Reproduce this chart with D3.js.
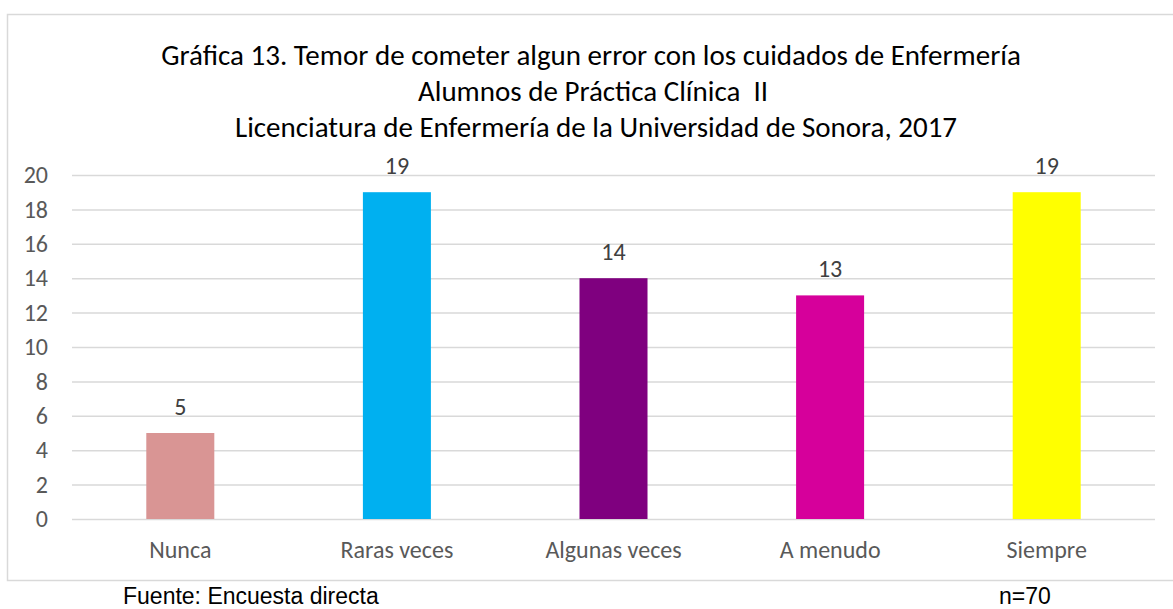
<!DOCTYPE html>
<html>
<head>
<meta charset="utf-8">
<script src="https://cdn.jsdelivr.net/npm/d3@7"></script>
<style>
  body { margin: 0; background: #fff; }
  text { font-family: Calibri, Carlito, "Open Sans", "Noto Sans", sans-serif; }
</style>
</head>
<body>
<svg id="chart" width="1173" height="609"></svg>
<script>
// chart data
const categories = ["Nunca", "Raras veces", "Algunas veces", "A menudo", "Siempre"];
const values = [5, 19, 14, 13, 19];
const barColors = ["#D99594", "#00B0F0", "#7F007F", "#D6009B", "#FFFF00"];
const yTicks = [0, 2, 4, 6, 8, 10, 12, 14, 16, 18, 20];
const titleLines = [
  "Gráfica 13. Temor de cometer algun error con los cuidados de Enfermería",
  "Alumnos de Práctica Clínica  II",
  "Licenciatura de Enfermería de la Universidad de Sonora, 2017"
];

const svg = d3.select("#chart");
const fontStack = "Calibri, Carlito, 'Open Sans', 'Noto Sans', sans-serif";

// set the dimensions of the plot area
const margin = { top: 175, right: 18, bottom: 90, left: 72 };
const width = 1155 - margin.left;
const height = 519 - margin.top;

// outer frame of the chart
svg.append("rect")
  .attr("x", 7.5)
  .attr("y", 14.5)
  .attr("width", 1175)
  .attr("height", 566)
  .attr("fill", "#fff")
  .attr("stroke", "#D9D9D9")
  .attr("stroke-width", 1.5);

// title
svg.append("g")
  .selectAll("text")
  .data(titleLines)
  .join("text")
  .attr("x", (d, i) => [591, 593, 596][i])
  .attr("y", (d, i) => 65 + i * 36)
  .attr("text-anchor", "middle")
  .attr("font-size", "29px")
  .attr("fill", "#000")
  .style("white-space", "pre")
  .text(d => d);

const g = svg.append("g")
  .attr("transform", "translate(" + margin.left + "," + margin.top + ")");

const xScale = d3.scaleBand()
  .domain(categories)
  .range([0, width]);

const yScale = d3.scaleLinear()
  .domain([0, 20])
  .range([height, 0]);

// gridlines
g.append("g")
  .selectAll("line")
  .data(yTicks)
  .join("line")
  .attr("x1", 0)
  .attr("x2", width)
  .attr("y1", d => yScale(d) + 0.5)
  .attr("y2", d => yScale(d) + 0.5)
  .attr("stroke", "#D9D9D9")
  .attr("stroke-width", 1.5);

// y axis labels
const yAxis = g.append("g")
  .call(d3.axisLeft(yScale).tickValues(yTicks).tickSize(0).tickPadding(24));
yAxis.select(".domain").remove();
yAxis.selectAll("text")
  .attr("font-family", fontStack)
  .attr("font-size", "24px")
  .attr("fill", "#595959");

// x axis labels
const xAxis = g.append("g")
  .attr("transform", "translate(0," + height + ")")
  .call(d3.axisBottom(xScale).tickSize(0).tickPadding(22));
xAxis.select(".domain").remove();
xAxis.selectAll("text")
  .attr("font-family", fontStack)
  .attr("font-size", "24px")
  .attr("fill", "#595959");

// bars
const barW = xScale.bandwidth() * 0.314;
g.append("g")
  .selectAll("rect")
  .data(values)
  .join("rect")
  .attr("x", (d, i) => xScale(categories[i]) + xScale.bandwidth() / 2 - barW / 2)
  .attr("y", d => yScale(d))
  .attr("width", barW)
  .attr("height", d => height - yScale(d))
  .attr("fill", (d, i) => barColors[i]);

// data labels
g.append("g")
  .selectAll("text")
  .data(values)
  .join("text")
  .attr("x", (d, i) => xScale(categories[i]) + xScale.bandwidth() / 2)
  .attr("y", d => yScale(d) - 18)
  .attr("text-anchor", "middle")
  .attr("font-size", "24px")
  .attr("fill", "#404040")
  .text(d => d);

// footer notes
svg.append("text")
  .attr("x", 123)
  .attr("y", 604)
  .style("font-family", "'Liberation Sans', Arial, sans-serif")
  .attr("font-size", "23px")
  .attr("fill", "#000")
  .text("Fuente: Encuesta directa");

svg.append("text")
  .attr("x", 999)
  .attr("y", 604)
  .style("font-family", "'Liberation Sans', Arial, sans-serif")
  .attr("font-size", "23px")
  .attr("fill", "#000")
  .text("n=70");
</script>
</body>
</html>
